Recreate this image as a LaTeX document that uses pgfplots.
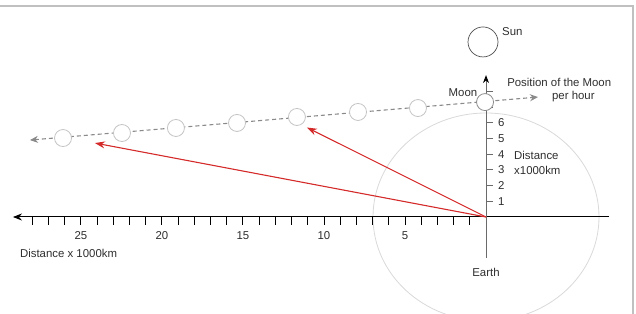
\documentclass[border=0pt]{standalone}
\usepackage{pgfplots}
\pgfplotsset{compat=1.18}
\usepackage{fontspec}
\setmainfont{Liberation Sans}
\usetikzlibrary{arrows.meta}
\definecolor{txt}{HTML}{2E2E2E}
\definecolor{framec}{HTML}{C0C0C0}
\definecolor{ellc}{HTML}{D9D9D9}
\definecolor{vax}{HTML}{6A6A6A}
\definecolor{redc}{HTML}{D42A2A}
\definecolor{dashc}{HTML}{8A8A8A}
\definecolor{moonc}{HTML}{C4C4C4}
\definecolor{curmoon}{HTML}{8C8C8C}
\definecolor{sunc}{HTML}{505050}
\begin{document}
\begin{tikzpicture}
\useasboundingbox (0,0) rectangle (636pt,313pt);
\begin{axis}[at={(0,0)}, anchor=south west, scale only axis,
  width=636pt, height=313pt, hide axis,
  xmin=-9.259, xmax=30, ymin=-6.115, ymax=13.822, x dir=reverse,
  clip marker paths=true,
  font=\fontsize{11.4}{13}\selectfont]
% frame
\addplot[draw=framec, line width=2.2pt] coordinates {(31,13.45) (-9.06,13.45) (-9.06,-7)};
% orbit ellipse
\addplot[only marks, mark=o, mark size=104, mark options={xscale=1.0865, draw=ellc, line width=0.8pt}] coordinates {(0,0)};
% horizontal axis
\addplot[black, line width=1pt, -{Stealth[length=9pt,width=7pt]}] coordinates {(-7.6,0) (29.2,0)};
\addplot[black, line width=1pt, quiver={u=0,v=-0.51}] coordinates {
 (1,0) (2,0) (3,0) (4,0) (5,0) (6,0) (7,0) (8,0) (9,0) (10,0)
 (11,0) (12,0) (13,0) (14,0) (15,0) (16,0) (17,0) (18,0) (19,0) (20,0)
 (21,0) (22,0) (23,0) (24,0) (25,0) (26,0) (27,0) (28,0)};
% vertical axis
\addplot[vax, line width=1pt, -{Stealth[length=8pt,width=6pt,color=black]}] coordinates {(0,-2.61) (0,9.04)};
\addplot[vax, line width=1pt, quiver={u=-0.43,v=0}] coordinates {
 (0,1) (0,2) (0,3) (0,4) (0,5) (0,6) (0,7) (0,8)};
% red arrows
\addplot[redc, line width=1.1pt, -{Stealth[length=10pt,width=7pt]}] coordinates {(0,0) (24.14,4.71)};
\addplot[redc, line width=1.1pt, -{Stealth[length=10pt,width=7pt]}] coordinates {(0,0) (11.05,5.70)};
% dashed path of the Moon
\addplot[dashc, line width=1.1pt, dash pattern=on 4pt off 3pt, {Stealth[length=8pt,width=7pt]}-{Stealth[length=8pt,width=7pt]}] coordinates {(28.15,4.90) (-3.21,7.64)};
% moon positions
\addplot[only marks, mark=*, mark size=8.5, mark options={draw=moonc, fill=white, line width=0.8pt}] coordinates {
 (26.11,5.03) (22.47,5.35) (19.14,5.67) (15.37,5.99) (11.67,6.37) (7.90,6.69) (4.20,6.94)};
\addplot[only marks, mark=*, mark size=8.5, mark options={draw=curmoon, fill=white, line width=0.8pt}] coordinates {(0.06,7.32)};
% sun
\addplot[only marks, mark=*, mark size=15, mark options={draw=sunc, fill=white, line width=0.7pt}] coordinates {(0.185,11.15)};
% labels
\begin{scope}[every node/.style={text=txt, inner sep=0pt}]
\node[anchor=west] at (axis cs:-0.99,11.78) {Sun};
\node at (axis cs:1.42,7.90) {Moon};
\node[anchor=west] at (axis cs:-1.30,8.54) {Position of the Moon};
\node[anchor=west] at (axis cs:-4.07,7.64) {per hour};
\node[anchor=west] at (axis cs:-1.73,3.89) {Distance};
\node[anchor=west] at (axis cs:-1.73,2.99) {x1000km};
\node at (axis cs:0,-3.50) {Earth};
\node[anchor=west] at (axis cs:28.77,-2.29) {Distance x 1000km};
\node at (axis cs:5,-1.21) {5};
\node at (axis cs:10,-1.21) {10};
\node at (axis cs:15,-1.21) {15};
\node at (axis cs:20,-1.21) {20};
\node at (axis cs:25,-1.21) {25};
\node[anchor=west] at (axis cs:-0.74,1) {1};
\node[anchor=west] at (axis cs:-0.74,2) {2};
\node[anchor=west] at (axis cs:-0.74,3) {3};
\node[anchor=west] at (axis cs:-0.74,4) {4};
\node[anchor=west] at (axis cs:-0.74,5) {5};
\node[anchor=west] at (axis cs:-0.74,6) {6};
\end{scope}
\end{axis}
\end{tikzpicture}
\end{document}
